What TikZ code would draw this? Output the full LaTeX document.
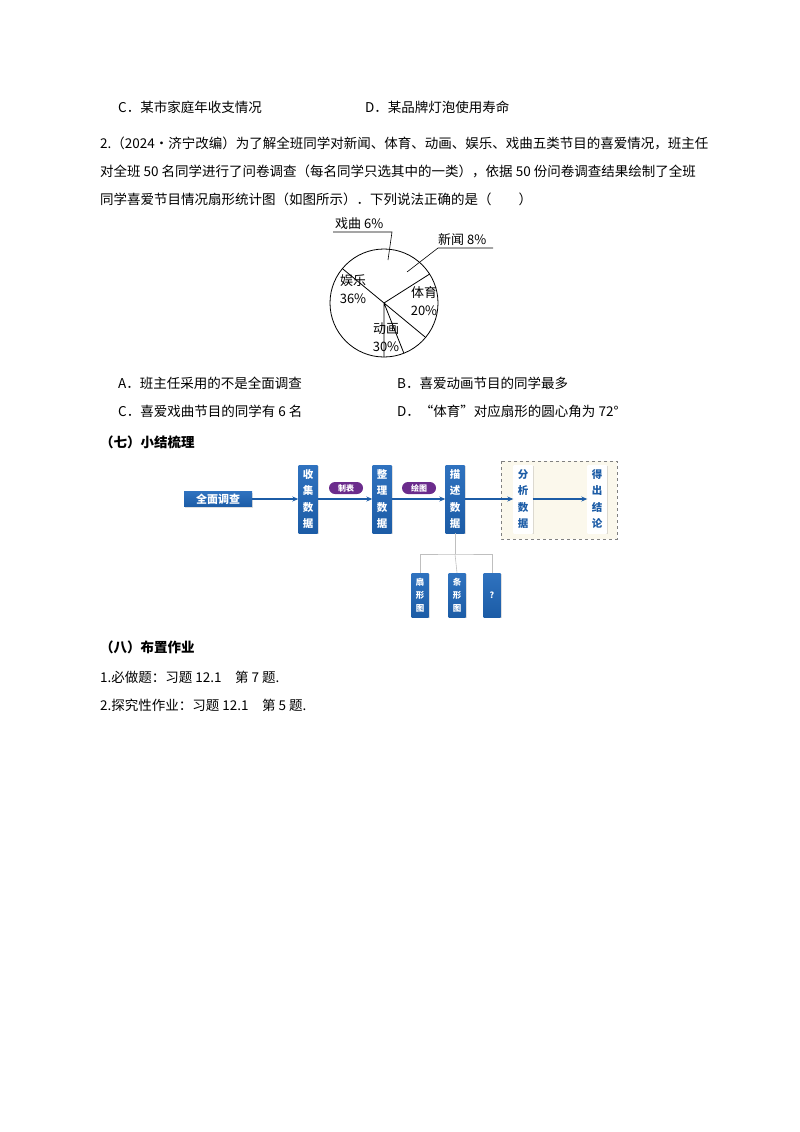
\documentclass[tikz,border=0pt]{standalone}
\usepackage{fontspec}
\setmainfont{Noto Sans CJK SC}
\usetikzlibrary{arrows.meta,shadows}
\definecolor{bblue}{HTML}{1C5CA6}
\definecolor{lblue}{HTML}{2F72BF}
\definecolor{apurple}{HTML}{6B2C8C}
\definecolor{cream}{HTML}{FBF8EC}
\tikzset{
  txt/.style={anchor=west,inner sep=0pt,font=\fontsize{13.5}{16}\selectfont},
  hd/.style={txt,font=\fontsize{13.5}{16}\selectfont\bfseries},
  plbl/.style={inner sep=0pt,align=center,font=\fontsize{13}{18}\selectfont},
  vbox/.style={draw=none,top color=lblue,bottom color=bblue,text=white,inner sep=0pt,
    minimum width=19pt,minimum height=68pt,align=center,
    font=\fontsize{10.5}{16.5}\selectfont\bfseries,drop shadow={opacity=0.25,shadow xshift=1pt,shadow yshift=-1pt}},
  sbox/.style={vbox,minimum width=17pt,minimum height=44pt,font=\fontsize{8.5}{13}\selectfont\bfseries},
  pill/.style={fill=apurple,text=white,rounded corners=6pt,minimum width=34pt,minimum height=12pt,inner sep=0pt,font=\fontsize{8}{9}\selectfont\bfseries},
  flow/.style={draw=bblue,line width=1.5pt,-{Stealth[length=6pt,width=5pt]}},
  tree/.style={draw=gray!50,line width=0.6pt}
}
\begin{document}
\begin{tikzpicture}[x=1pt,y=-1pt]
\useasboundingbox (0,0) rectangle (800,1132);
% text
\node[txt] (c1) at (118,107) {C．某市家庭年收支情况};
\node[txt] (d1) at (365,107) {D．某品牌灯泡使用寿命};
\node[txt] (q1) at (100,143) {2.（2024•济宁改编）为了解全班同学对新闻、体育、动画、娱乐、戏曲五类节目的喜爱情况，班主任};
\node[txt] (q2) at (100,171) {对全班 50 名同学进行了问卷调查（每名同学只选其中的一类），依据 50 份问卷调查结果绘制了全班};
\node[txt] (q3) at (100,199) {同学喜爱节目情况扇形统计图（如图所示）．下列说法正确的是（\quad\quad）};
% pie
\coordinate (o) at (384,303);
\draw[line width=0.8pt] (o) circle (54);
\draw[line width=0.8pt] (o) -- ++(90:54) (o) -- ++(68.4:54) (o) -- ++(39.6:54) (o) -- ++(-32.4:54) (o) -- ++(-140.4:54);
\node[plbl] (yl) at (353,289) {娱乐\\36\%};
\node[plbl] (ty) at (424,301) {体育\\20\%};
\node[plbl] (dh) at (386,337) {动画\\30\%};
\node[plbl,anchor=south west] (xq) at (335,230) {戏曲 6\%};
\node[plbl,anchor=south west] (xw) at (438,246) {新闻 8\%};
\coordinate (xqa) at (333,232); \coordinate (xqb) at (392,232); \coordinate (xqc) at (388,260);
\coordinate (xwa) at (493,248); \coordinate (xwb) at (438,248); \coordinate (xwc) at (407,272);
\draw[line width=0.6pt] (xqa) -- (xqb) -- (xqc);
\draw[line width=0.6pt] (xwa) -- (xwb) -- (xwc);
% options
\node[txt] (oa) at (118,383) {A．班主任采用的不是全面调查};
\node[txt] (ob) at (397,383) {B．喜爱动画节目的同学最多};
\node[txt] (oc) at (118,411) {C．喜爱戏曲节目的同学有 6 名};
\node[txt] (od) at (397,411) {D．“体育”对应扇形的圆心角为 72°};
\node[hd] (h7) at (100,442) {（七）小结梳理};
% flow chart
\fill[cream] (501,461) rectangle (617,539);
\draw[gray,dashed,line width=0.6pt] (501,461) rectangle (617,539);
\node[vbox,minimum width=68pt,minimum height=15pt,font=\fontsize{11}{12}\selectfont\bfseries] (qm) at (218,499) {全面调查};
\node[vbox] (sj) at (308,499) {收\\集\\数\\据};
\node[vbox] (zl) at (382,499) {整\\理\\数\\据};
\node[vbox] (ms) at (455,499) {描\\述\\数\\据};
\node[vbox,top color=white,bottom color=white,text=bblue] (fx) at (523,499) {分\\析\\数\\据};
\node[vbox,top color=white,bottom color=white,text=bblue] (dc) at (597,499) {得\\出\\结\\论};
\node[pill] (zb) at (346,488) {制表};
\node[pill] (ht) at (419,488) {绘图};
\draw[flow] (qm) -- (sj);
\draw[flow] (sj) -- (zl);
\draw[flow] (zl) -- (ms);
\draw[flow] (ms) -- (fx);
\draw[flow] (fx) -- (dc);
\node[sbox] (sx) at (420,595) {扇\\形\\图};
\node[sbox] (tx) at (457,595) {条\\形\\图};
\node[sbox] (wh) at (492,595) {?};
\coordinate (br) at (455,554);
\draw[tree] (ms.south) -- (br);
\draw[tree] (sx.north) |- (br) -| (wh.north);
\draw[tree] (br) -- (tx.north);
% homework
\node[hd] (h8) at (100,647) {（八）布置作业};
\node[txt] (hw1) at (100,677) {1.必做题：习题 12.1\quad 第 7 题.};
\node[txt] (hw2) at (100,705) {2.探究性作业：习题 12.1\quad 第 5 题.};
\end{tikzpicture}
\end{document}
